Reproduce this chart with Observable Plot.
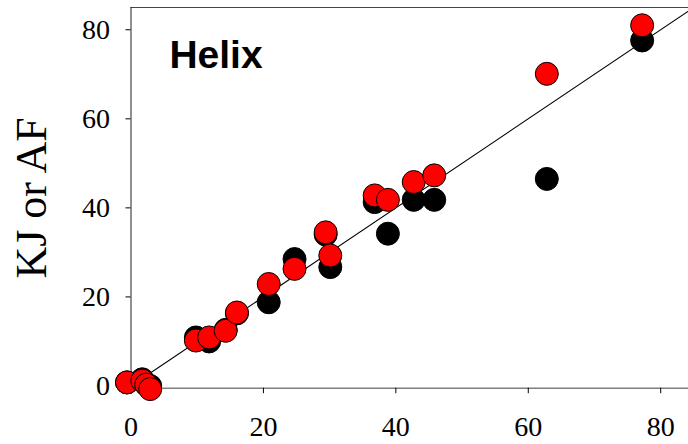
<!DOCTYPE html>
<html>
<head>
<meta charset="utf-8">
<script src="https://cdn.jsdelivr.net/npm/d3@7"></script>
<script src="https://cdn.jsdelivr.net/npm/@observablehq/plot@0.6"></script>
<style>
  html, body { margin: 0; padding: 0; background: white; }
</style>
</head>
<body>
<div id="chart"></div>
<script>
// Reference values (x) and the two methods' values (y)
const xRef  = [-0.6, 1.7, 2.3, 2.9, 9.8, 11.8, 14.3, 16.0, 20.8, 24.7, 29.4, 30.1, 36.8, 38.8, 42.7, 45.8, 62.8, 77.2];
const kjVals = [0.8, 1.5, 0.4, 0.0, 10.9, 10.0, 12.6, 16.3, 18.8, 28.5, 34.0, 26.7, 41.3, 34.2, 41.8, 41.8, 46.5, 77.6];
const afVals = [0.8, 1.2, 0.3, -0.7, 10.2, 10.9, 12.4, 16.5, 22.9, 26.3, 34.5, 29.3, 42.8, 41.8, 45.8, 47.3, 70.1, 81.0];
const xTicks = [0, 20, 40, 60, 80];
const yTicks = [0, 20, 40, 60, 80];
const identityLine = [0, 85];
const xDomain = [0, 84.2];
const yDomain = [-0.5, 85];
const yLabel = "KJ or AF";
const panelTitle = "Helix";

const kj = xRef.map((x, i) => ({x, y: kjVals[i]}));
const af = xRef.map((x, i) => ({x, y: afVals[i]}));

const serif = "'Liberation Serif', 'Times New Roman', serif";

const chart = Plot.plot({
  width: 688,
  height: 444,
  marginLeft: 130.5,
  marginRight: 0,
  marginTop: 7,
  marginBottom: 56.3,
  style: {background: "white", fontFamily: serif, color: "black"},
  x: {domain: xDomain},
  y: {domain: yDomain},
  marks: [
    Plot.ruleY([yDomain[1]], {stroke: "#444", strokeWidth: 1}),
    Plot.ruleY([yDomain[0]], {stroke: "#7f7f7f", strokeWidth: 1.6}),
    Plot.ruleX([0], {stroke: "#222", strokeWidth: 1}),
    Plot.axisX({ticks: xTicks, tickSize: 5.5, tickPadding: 22.5, fontSize: 28, fontFamily: serif, label: null, tickFormat: d => String(d)}),
    Plot.axisY({ticks: yTicks, tickSize: 5, tickPadding: 16, fontSize: 28, fontFamily: serif, label: null, tickFormat: d => String(d)}),
    Plot.line(identityLine, {x: d => d, y: d => d, stroke: "black", strokeWidth: 1.1}),
    Plot.dot(kj, {x: "x", y: "y", r: 11.5, fill: "black", stroke: "black", strokeWidth: 1}),
    Plot.dot(af, {x: "x", y: "y", r: 11.5, fill: "#ff0000", stroke: "black", strokeWidth: 1}),
    Plot.text([yLabel], {frameAnchor: "left", textAnchor: "middle", rotate: -90, dx: -99.5, fontSize: 44, fontFamily: serif, fill: "black"}),
    Plot.text([panelTitle], {frameAnchor: "top-left", textAnchor: "start", lineAnchor: "top", dx: 38.4, dy: 32.6, fontSize: 39, fontWeight: "bold", fontFamily: "'Liberation Sans', Arial, sans-serif", fill: "black"})
  ]
});
document.getElementById("chart").appendChild(chart);
</script>
</body>
</html>
